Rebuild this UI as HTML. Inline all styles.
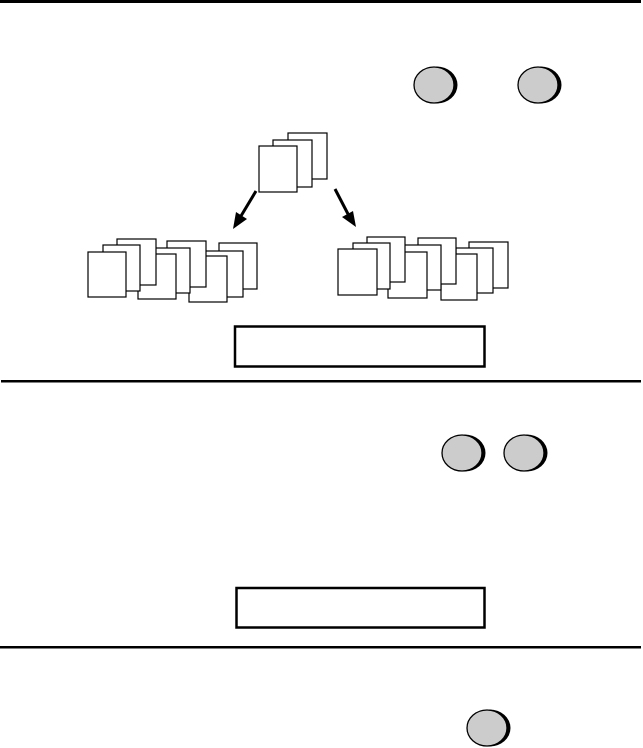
<!DOCTYPE html>
<html><head><meta charset="utf-8"><style>html,body{margin:0;padding:0;background:#fff;}svg{display:block;}</style></head>
<body>
<svg width="643" height="748" viewBox="0 0 643 748" xmlns="http://www.w3.org/2000/svg">
<defs>
<g id="btn">
<ellipse cx="2.5" cy="0" rx="21" ry="18.5" fill="#000"/>
<ellipse cx="0" cy="0" rx="20" ry="18" fill="#ccc" stroke="#000" stroke-width="1.3"/>
</g>
</defs>
<rect x="0" y="0" width="641" height="3" fill="#000"/>
<rect x="1" y="380" width="640" height="2.5" fill="#000"/>
<rect x="0" y="646" width="641" height="2.5" fill="#000"/>

<use href="#btn" x="434" y="85"/>
<use href="#btn" x="538" y="85"/>
<use href="#btn" x="462" y="453"/>
<use href="#btn" x="524" y="453"/>
<use href="#btn" x="487" y="728"/>

<g fill="#fff" stroke="#000" stroke-width="1.2">
<rect x="288" y="133" width="39" height="46"/>
<rect x="273" y="140" width="39" height="47"/>
<rect x="259" y="146" width="38" height="46"/>

<!-- left group: C, B, A -->
<rect x="219" y="243" width="38" height="46"/>
<rect x="205" y="251" width="38" height="46"/>
<rect x="189" y="256" width="38" height="46"/>
<rect x="167" y="241" width="39" height="46"/>
<rect x="152" y="248" width="38" height="45"/>
<rect x="138" y="254" width="38" height="45"/>
<rect x="117" y="239" width="39" height="46"/>
<rect x="103" y="245" width="37" height="46"/>
<rect x="88" y="252" width="38" height="45"/>

<!-- right group -->
<rect x="469" y="242" width="39" height="46"/>
<rect x="456" y="248" width="37" height="45"/>
<rect x="441" y="254" width="36" height="46"/>
<rect x="418" y="238" width="38" height="46"/>
<rect x="403" y="245" width="38" height="45"/>
<rect x="388" y="252" width="39" height="46"/>
<rect x="367" y="237" width="38" height="45"/>
<rect x="353" y="243" width="37" height="46"/>
<rect x="338" y="249" width="39" height="46"/>
</g>

<line x1="256" y1="191" x2="241" y2="216" stroke="#000" stroke-width="3"/>
<polygon points="233,229 236,212 247,219" fill="#000"/>
<line x1="335" y1="189" x2="348" y2="214" stroke="#000" stroke-width="3"/>
<polygon points="356,227 342,217 353,211" fill="#000"/>

<rect x="235" y="326.5" width="249.5" height="40" fill="none" stroke="#000" stroke-width="2.5"/>
<rect x="236.5" y="588" width="248" height="39.5" fill="none" stroke="#000" stroke-width="2.5"/>
</svg>
</body></html>
